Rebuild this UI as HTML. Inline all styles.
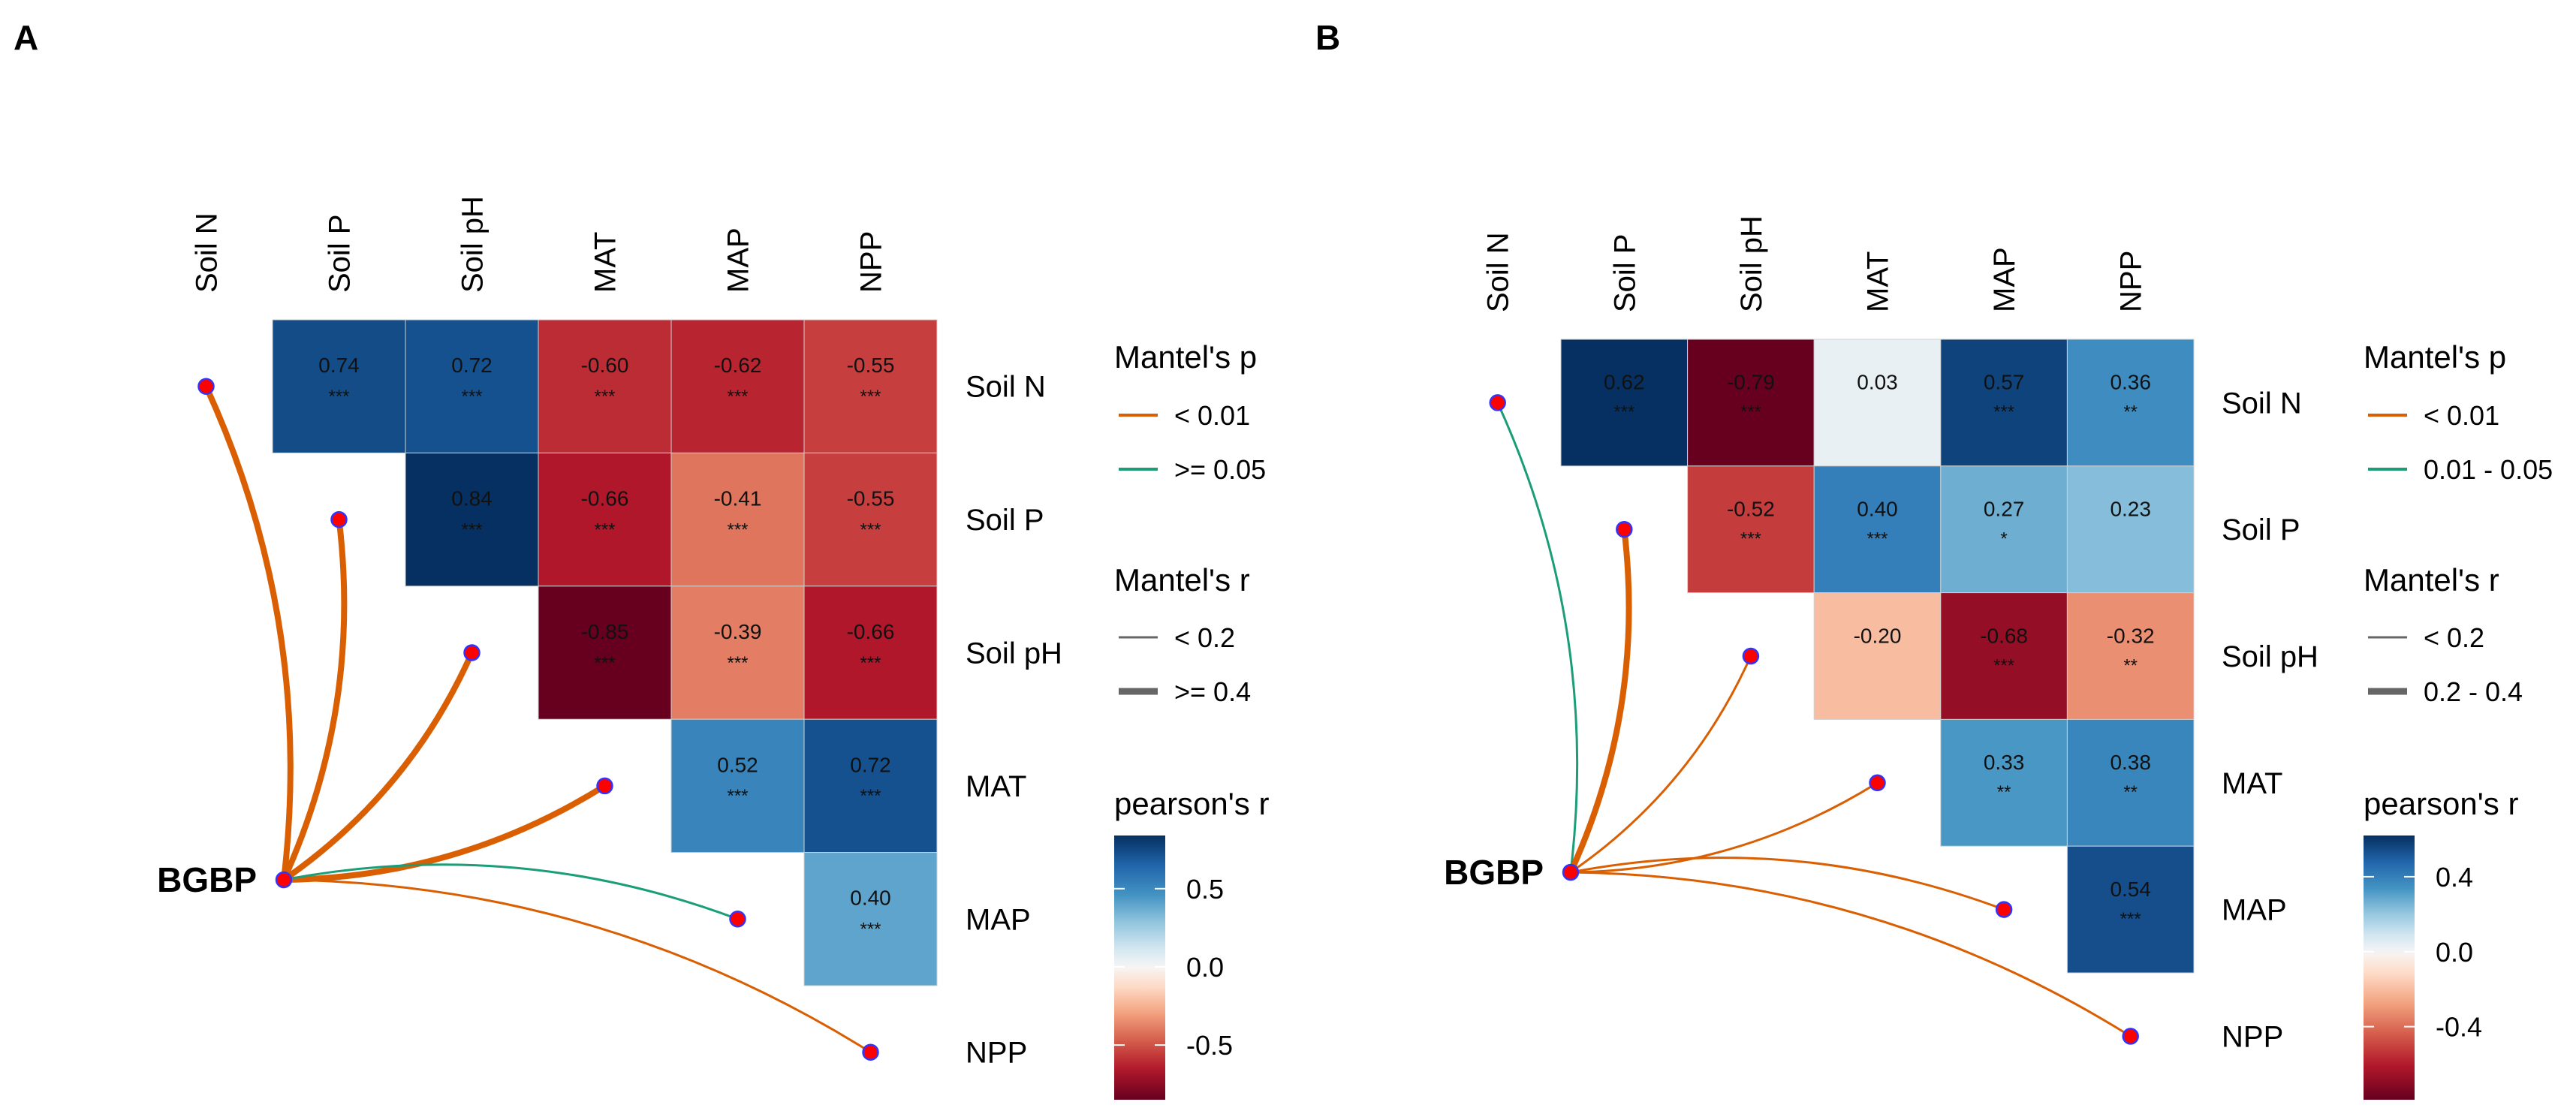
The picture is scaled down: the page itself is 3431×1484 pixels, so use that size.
<!DOCTYPE html>
<html><head><meta charset="utf-8">
<style>
html,body{margin:0;padding:0;background:#fff;}
svg{display:block;font-family:"Liberation Sans",Arial,sans-serif;}
</style></head>
<body>
<svg id="fig" width="3431" height="1484" viewBox="0 0 3431 1484" xmlns="http://www.w3.org/2000/svg"></svg>
<script>
// ---------- data ----------
const vars = ["Soil N","Soil P","Soil pH","MAT","MAP","NPP"];
const corrA = [[0.74,0.72,-0.60,-0.62,-0.55],[0.84,-0.66,-0.41,-0.55],[-0.85,-0.39,-0.66],[0.52,0.72],[0.40]];
const sigA  = [["***","***","***","***","***"],["***","***","***","***"],["***","***","***"],["***","***"],["***"]];
const corrB = [[0.62,-0.79,0.03,0.57,0.36],[-0.52,0.40,0.27,0.23],[-0.20,-0.68,-0.32],[0.33,0.38],[0.54]];
const sigB  = [["***","***","","***","**"],["***","***","*",""],["","***","**"],["**","**"],["***"]];
const mantelPA = ["<0.01","<0.01","<0.01","<0.01",">=0.05","<0.01"];
const mantelRA = [">=0.4",">=0.4",">=0.4",">=0.4","<0.2","<0.2"];
const mantelPB = ["0.01-0.05","<0.01","<0.01","<0.01","<0.01","<0.01"];
const mantelRB = ["<0.2","0.2-0.4","<0.2","<0.2","<0.2","<0.2"];
const pLabelsA = ["< 0.01",">= 0.05"];
const rLabelsA = ["< 0.2",">= 0.4"];
const pLabelsB = ["< 0.01","0.01 - 0.05"];
const rLabelsB = ["< 0.2","0.2 - 0.4"];
const ticksA = [0.5,0.0,-0.5];
const ticksB = [0.4,0.0,-0.4];

// ---------- helpers ----------
const NS="http://www.w3.org/2000/svg";
const svg=document.getElementById('fig');
function mk(tag,attrs,parent,text){const e=document.createElementNS(NS,tag);for(const k in attrs)e.setAttribute(k,attrs[k]);if(text!==undefined)e.textContent=text;(parent||svg).appendChild(e);return e;}
const RdBu=["#67001f","#b2182b","#d6604d","#f4a582","#fddbc7","#f7f7f7","#d1e5f0","#92c5de","#4393c3","#2166ac","#053061"];
function hex(c){return [parseInt(c.slice(1,3),16),parseInt(c.slice(3,5),16),parseInt(c.slice(5,7),16)];}
function pal(t){
  t=Math.max(0,Math.min(1,t));const f=t*10,i=Math.min(9,Math.floor(f)),u=f-i;
  const a=hex(RdBu[i]),b=hex(RdBu[i+1]);
  return "rgb("+a.map((v,k)=>Math.round(v+(b[k]-v)*u)).join(",")+")";
}
function colorFor(v,mn,mx){return v>=0?pal(0.5+0.5*Math.pow(v/mx,0.85)):pal(0.5-0.5*Math.pow(v/mn,0.85));}
const pColor={"<0.01":"#d95f02",">=0.05":"#1b9e77","0.01-0.05":"#1b9e77"};
const rWidth={"<0.2":3,"0.2-0.4":8,">=0.4":8};

function panel(cfg){
  const g=mk('g',{});
  const {left,top,w,h}=cfg;
  const all=cfg.corr.flat();const mx=Math.max(...all),mn=Math.min(...all);
  mk('text',{x:cfg.labelX,y:66,'font-size':46,'font-weight':'bold',},g,cfg.id);
  vars.forEach((v,k)=>{
    const cx=left+(k-0.5)*w;
    const t=mk('text',{transform:`translate(${cx+14},${cfg.colBottom}) rotate(-90)`,'font-size':40,'text-anchor':'start'},g,v);
    
    
  });
  vars.forEach((v,i)=>{
    const t=mk('text',{x:cfg.rowX,y:top+(i+0.5)*h+14,'font-size':40},g,v);
    
    
  });
  cfg.corr.forEach((row,i)=>row.forEach((v,jj)=>{
    const j=i+1+jj;const x=left+(j-1)*w,y=top+i*h;
    const r=mk('rect',{x:x,y:y,width:w,height:h,fill:colorFor(v,mn,mx),stroke:'#cfcfcf','stroke-width':1},g);
    
    
    const t=mk('text',{x:x+w/2,y:y+h*0.395,'font-size':28,'text-anchor':'middle',fill:'#111'},g,v.toFixed(2));
    
    
    const s=cfg.sig[i][jj];
    if(s){const st=mk('text',{x:x+w/2,y:y+h*0.62,'font-size':24,'text-anchor':'middle',fill:'#111'},g,s);
      
      }
  }));
  const bx=cfg.bgbpX,by=cfg.bgbpY;
  vars.forEach((v,k)=>{
    const nx=left+(k-0.5)*w,ny=top+(k+0.5)*h;
    const dx=nx-bx,dy=ny-by;
    const sgn=ny<by?1:-1;const c=0.14*sgn;
    const qx=(bx+nx)/2+(-dy)*c, qy=(by+ny)/2+dx*c;
    const p=mk('path',{d:`M${bx},${by} Q${qx},${qy} ${nx},${ny}`,fill:'none',stroke:pColor[cfg.p[k]],'stroke-width':rWidth[cfg.r[k]],'stroke-linecap':'round'},g);
    
    
  });
  vars.forEach((v,k)=>{
    const nx=left+(k-0.5)*w,ny=top+(k+0.5)*h;
    const n=mk('circle',{cx:nx,cy:ny,r:10,fill:'#f00',stroke:'#33f','stroke-width':2.5},g);
    
    
  });
  mk('circle',{cx:bx,cy:by,r:10,fill:'#f00',stroke:'#33f','stroke-width':2.5,},g);
  mk('text',{x:bx-36,y:by+16,'font-size':46,'font-weight':'bold','text-anchor':'end',},g,'BGBP');
  const L=cfg.legX,lt=L+80;
  mk('text',{x:L,y:490,'font-size':42,},g,"Mantel's p");
  const pc=['#d95f02','#1b9e77'];
  cfg.pLabels.forEach((lab,i)=>{const y=553+i*72;
    const l=mk('line',{x1:L+6,x2:L+58,y1:y,y2:y,stroke:pc[i],'stroke-width':4},g);
    
    
    const t=mk('text',{x:lt,y:y+13,'font-size':36},g,lab);
    
    });
  mk('text',{x:L,y:787,'font-size':42,},g,"Mantel's r");
  cfg.rLabels.forEach((lab,i)=>{const y=849+i*72;
    const l=mk('line',{x1:L+6,x2:L+58,y1:y,y2:y,stroke:'#666','stroke-width':i?9:3},g);
    
    
    const t=mk('text',{x:lt,y:y+13,'font-size':36},g,lab);
    
    });
  mk('text',{x:L,y:1085,'font-size':42,},g,"pearson's r");
  const cbT=1113,cbH=352,cbW=68;
  const gid='grad'+cfg.id;const defs=mk('defs',{},g);
  const lg=mk('linearGradient',{id:gid,x1:0,y1:0,x2:0,y2:1},defs);
  for(let s=0;s<=40;s++){const v=mx-(mx-mn)*s/40;mk('stop',{offset:(s/40),'stop-color':colorFor(v,mn,mx)},lg);}
  mk('rect',{x:L,y:cbT,width:cbW,height:cbH,fill:`url(#${gid})`,},g);
  cfg.ticks.forEach(tv=>{const y=cbT+(mx-tv)/(mx-mn)*cbH;
    const a=mk('line',{x1:L,x2:L+14,y1:y,y2:y,stroke:'#fff','stroke-width':2},g);
    
    
    const b=mk('line',{x1:L+cbW-14,x2:L+cbW,y1:y,y2:y,stroke:'#fff','stroke-width':2},g);
    
    
    const t=mk('text',{x:L+cbW+28,y:y+13,'font-size':36},g,tv.toFixed(1));
    
    });
}
panel({id:'A',labelX:18,left:363,top:426,w:177,h:177.4,colBottom:390,rowX:1286,bgbpX:378,bgbpY:1172,
  corr:corrA,sig:sigA,p:mantelPA,r:mantelRA,pLabels:pLabelsA,rLabels:rLabelsA,ticks:ticksA,legX:1484});
panel({id:'B',labelX:1752,left:2079,top:452,w:168.6,h:168.8,colBottom:416,rowX:2959,bgbpX:2092,bgbpY:1162,
  corr:corrB,sig:sigB,p:mantelPB,r:mantelRB,pLabels:pLabelsB,rLabels:rLabelsB,ticks:ticksB,legX:3148});
</script>
</body></html>
